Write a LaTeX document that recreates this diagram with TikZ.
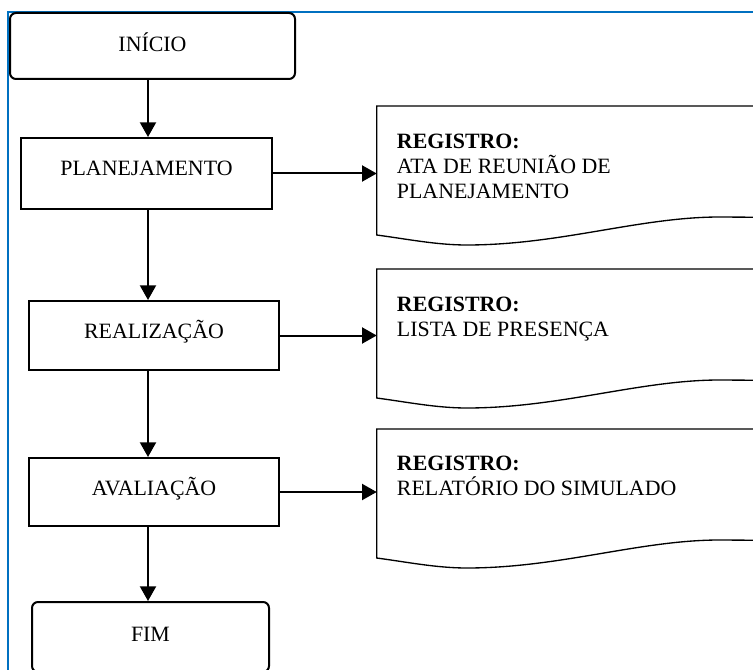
\documentclass[tikz,border=0pt]{standalone}
\usepackage{fontspec}
\setmainfont{Liberation Serif}
\usetikzlibrary{calc,arrows.meta}
\definecolor{frameblue}{RGB}{0,112,192}
\tikzset{
  x=0.75pt, y=-0.75pt,
  boxtext/.style={font=\fontsize{16.4pt}{18.75pt}\selectfont, inner sep=0pt, text height=10.5pt},
  stepbox/.style={boxtext, draw=black, line width=1.5pt, rectangle},
  termbox/.style={stepbox, rounded corners=4.5pt},
  docbox/.style={draw=none, inner sep=0pt, minimum width=317.25pt, minimum height=83.25pt, anchor=north west},
  docline/.style={draw=black, line width=1pt},
  doctext/.style={inner sep=0pt, anchor=base west, font=\fontsize{16.4pt}{18.75pt}\selectfont},
  flow/.style={line width=1.5pt, -{Triangle[length=11pt,width=12pt]}},
  frame/.style={draw=frameblue, line width=1.5pt}
}
\newcommand{\docoutline}[1]{%
  \draw[docline] (#1.south east) -- (#1.north east) -- (#1.north west)
    -- ($(#1.north west)+(0,129)$)
    .. controls ($(#1.north west)+(30,133)$) and ($(#1.north west)+(60,139)$) .. ($(#1.north west)+(90,139)$)
    .. controls ($(#1.north west)+(183,139)$) and ($(#1.north west)+(263,111)$) .. ($(#1.north west)+(343,111)$)
    -- (#1.south east);}
\begin{document}
\begin{tikzpicture}
\useasboundingbox (0,0) rectangle (753,670);
\clip (0,0) rectangle (753,670);
\fill[white] (0,0) rectangle (753,670);
\draw[frame] (8,12) rectangle (820,720);

\coordinate (ax) at (148,0);

\node[termbox, minimum width=213.75pt, minimum height=49.5pt, text depth=1.5pt] (inicio) at (152.5,46) {INÍCIO};
\node[stepbox, minimum width=188.25pt, minimum height=53.25pt, text depth=6.75pt] (plan) at (146.5,173.5) {PLANEJAMENTO};
\node[stepbox, minimum width=187.5pt, minimum height=51.75pt, text depth=5.25pt] (real) at (154,335.5) {REALIZAÇÃO};
\node[stepbox, minimum width=187.5pt, minimum height=51pt, text depth=6pt] (aval) at (154,492) {AVALIAÇÃO};
\node[termbox, minimum width=177.75pt, minimum height=52.5pt, text depth=4.5pt] (fim) at (150.5,637) {FIM};

\node[docbox] (doc1) at (376.7,106) {};
\node[docbox] (doc2) at (376.7,269) {};
\node[docbox] (doc3) at (376.7,429) {};
\docoutline{doc1}
\docoutline{doc2}
\docoutline{doc3}

\node[doctext] (doc1t) at ($(doc1.north west)+(20,43)$) {\parbox[t]{240pt}{\textbf{REGISTRO:}\\ATA DE REUNIÃO DE\\PLANEJAMENTO}};
\node[doctext] (doc2t) at ($(doc2.north west)+(20,42)$) {\parbox[t]{240pt}{\textbf{REGISTRO:}\\LISTA DE PRESENÇA}};
\node[doctext] (doc3t) at ($(doc3.north west)+(20,41)$) {\parbox[t]{240pt}{\textbf{REGISTRO:}\\RELATÓRIO DO SIMULADO}};

\draw[flow] (inicio.south -| ax) -- (plan.north -| ax);
\draw[flow] (plan.south -| ax) -- (real.north -| ax);
\draw[flow] (real.south -| ax) -- (aval.north -| ax);
\draw[flow] (aval.south -| ax) -- (fim.north -| ax);

\draw[flow] (plan.east) -- (plan.east -| doc1.west);
\draw[flow] (real.east) -- (real.east -| doc2.west);
\draw[flow] (aval.east) -- (aval.east -| doc3.west);
\end{tikzpicture}
\end{document}
